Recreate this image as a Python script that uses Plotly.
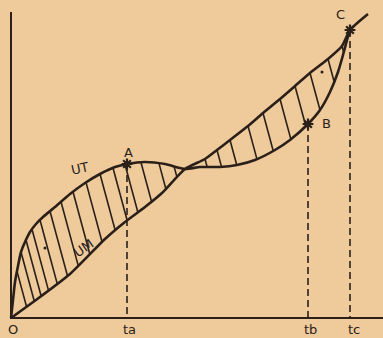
import numpy as np
import plotly.graph_objects as go

# ---- data (t = time, u = utility), origin at O ----
ut_t = [0, 2, 4, 7, 10, 14, 19, 25, 32, 44, 59, 74, 89, 104, 116, 134, 154, 174, 189, 209, 226, 244, 264, 279, 297, 309, 319, 327, 332, 336, 339]
ut_u = [0, 18, 36, 52, 66, 76, 86, 94, 101, 111, 124, 135, 144, 151, 154, 156, 154, 149, 151, 151, 153, 158, 168, 178, 194, 208, 226, 246, 263, 278, 288]

um_t = [0, 29, 59, 94, 114, 134, 151, 174, 194, 206, 219, 237, 252, 269, 284, 299, 317, 331, 339, 357]
um_u = [0, 21, 44, 79, 96, 111, 125, 149, 159, 168, 178, 192, 205, 219, 232, 245, 259, 272, 288, 304]

# hatch start positions on the upper curve
hatch_left = [6, 10, 15, 21, 29, 39, 50, 62, 75, 89, 102, 114, 130, 148, 163]
hatch_right = [194, 206, 219, 237, 252, 269, 284, 299, 317, 331]
hatch_slant = 0.27

# marked points
points_name = ["A", "B", "C"]
points_t = [116, 297, 339]
points_u = [154, 194, 288]

tick_vals = [0, 116, 297, 341]
tick_text = ["O", "ta", "tb", "tc"]

INK = "#2a2019"
PAPER = "#efcb9c"

fig = go.Figure()


def hatch(t0, top_curve, bot_curve):
    tt, tu = top_curve
    bt, bu = bot_curve
    u0 = np.interp(t0, tt, tu)
    xs = np.linspace(t0, t0 + 60, 1201)
    line_u = u0 - (xs - t0) / hatch_slant
    low = np.interp(xs, bt, bu)
    idx = np.argmax(line_u <= low)
    return [t0, xs[idx]], [u0, line_u[idx]]


hx, hy = [], []
for t0 in hatch_left:
    x, y = hatch(t0, (ut_t, ut_u), (um_t, um_u))
    hx += x + [None]; hy += y + [None]
for t0 in hatch_right:
    x, y = hatch(t0, (um_t, um_u), (ut_t, ut_u))
    hx += x + [None]; hy += y + [None]
fig.add_trace(go.Scatter(x=hx, y=hy, mode="lines", line=dict(color=INK, width=1.6), hoverinfo="skip"))

# axes
fig.add_trace(go.Scatter(x=[0, 0, 372], y=[306, 0, 0], mode="lines", line=dict(color=INK, width=2)))

# dashed drop lines
dx, dy = [], []
for t, u in zip(points_t, points_u):
    dx += [t, t, None]; dy += [u, 0, None]
fig.add_trace(go.Scatter(x=dx, y=dy, mode="lines", line=dict(color=INK, width=1.6, dash="7px,4px")))

# curves
fig.add_trace(go.Scatter(x=ut_t, y=ut_u, mode="lines", line=dict(color=INK, width=2.6, shape="spline", smoothing=0.6)))
fig.add_trace(go.Scatter(x=um_t, y=um_u, mode="lines", line=dict(color=INK, width=2.6, shape="spline", smoothing=0.6)))

# marks
fig.add_trace(go.Scatter(x=points_t, y=points_u, mode="markers",
                         marker=dict(symbol="asterisk-open", size=9, color=INK, line=dict(color=INK, width=2.2))))
fig.add_trace(go.Scatter(x=[34, 311], y=[70, 246], mode="markers", marker=dict(color=INK, size=3)))

font = dict(family="DejaVu Sans", size=13, color=INK)
ann = [
    dict(x=69, y=150, text="UT", textangle=-12),
    dict(x=72, y=70, text="UM", textangle=-35),
    dict(x=117, y=166, text="A"),
    dict(x=315, y=195, text="B"),
    dict(x=329, y=304, text="C"),
]
for t, lab in zip(tick_vals, tick_text):
    ann.append(dict(x=t + 2, y=-11, text=lab))
for a in ann:
    fig.add_annotation(**a, showarrow=False, font=font, xref="x", yref="y")

fig.update_layout(
    width=383, height=338, margin=dict(l=0, r=0, t=0, b=0),
    paper_bgcolor=PAPER, plot_bgcolor=PAPER, showlegend=False,
    xaxis=dict(range=[-11, 372], visible=False),
    yaxis=dict(range=[-20, 318], visible=False),
)
fig.write_html(
    "out.html",
    config={"displayModeBar": False},
    post_script="document.body.style.margin='0';document.body.style.background='%s';" % PAPER,
)
